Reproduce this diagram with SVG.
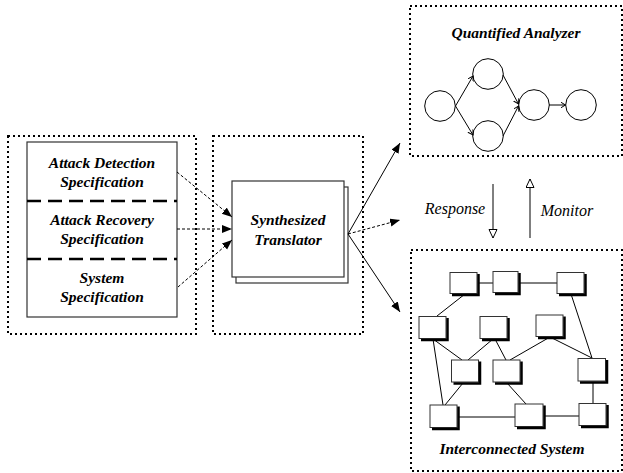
<svg xmlns="http://www.w3.org/2000/svg" width="623" height="473" viewBox="0 0 623 473">
<defs>
<style>
.dot{fill:none;stroke:#000;stroke-width:2;stroke-dasharray:2 3}
.box{fill:#fff;stroke:#333;stroke-width:1.2}
.div{stroke:#000;stroke-width:2.5;stroke-dasharray:14 7}
.t{font-family:"Liberation Serif","Times New Roman",serif;font-weight:bold;font-style:italic;font-size:15.5px;text-anchor:middle;fill:#000}
.ti{font-family:"Liberation Serif","Times New Roman",serif;font-style:italic;font-size:16px;text-anchor:middle;fill:#000}
.ln{fill:none;stroke:#000;stroke-width:1}
.dl{fill:none;stroke:#000;stroke-width:1;stroke-dasharray:3 2}
.circ{fill:#fff;stroke:#000;stroke-width:1}
.nb{fill:#fff;stroke:#333;stroke-width:1}
.sh{fill:none;stroke:#000;stroke-width:2.5}
</style>
<marker id="ah" markerUnits="userSpaceOnUse" markerWidth="12" markerHeight="10" refX="10" refY="4" orient="auto">
<path d="M0,0 L10,4 L0,8 Z" fill="#000"/>
</marker>
<marker id="oh" markerUnits="userSpaceOnUse" markerWidth="12" markerHeight="12" refX="9" refY="4.5" orient="auto">
<path d="M0.5,0.5 L9,4.5 L0.5,8.5 Z" fill="#fff" stroke="#000" stroke-width="1"/>
</marker>
<marker id="vh" markerUnits="userSpaceOnUse" markerWidth="8" markerHeight="8" refX="5" refY="3" orient="auto">
<path d="M0,0 L5,3 L0,6" fill="none" stroke="#000" stroke-width="1"/>
</marker>
</defs>

<g id="spec-group">
<rect class="dot" x="8" y="136" width="188" height="198"/>
<rect class="box" x="27" y="142" width="150" height="175"/>
<line class="div" x1="27" y1="201" x2="177" y2="201"/>
<line class="div" x1="27" y1="259" x2="177" y2="259"/>
</g>
<g id="attack-detection">
<text class="t" x="102" y="168">Attack Detection</text>
<text class="t" x="102" y="187">Specification</text>
</g>
<g id="attack-recovery">
<text class="t" x="102" y="225">Attack Recovery</text>
<text class="t" x="102" y="244">Specification</text>
</g>
<g id="system-spec">
<text class="t" x="102" y="283">System</text>
<text class="t" x="102" y="302">Specification</text>
</g>

<g id="translator">
<rect class="dot" x="213" y="136" width="150" height="198"/>
<rect class="box" x="236" y="187" width="112" height="96"/>
<rect class="box" x="232" y="181" width="112" height="96"/>
<text class="t" x="288" y="225">Synthesized</text>
<text class="t" x="288" y="245">Translator</text>
</g>

<g id="quantified-analyzer">
<rect class="dot" x="410" y="6" width="212" height="150"/>
<text class="t" x="516" y="38">Quantified Analyzer</text>
<circle class="circ" cx="440" cy="106" r="15.3"/>
<circle class="circ" cx="488" cy="74" r="15.3"/>
<circle class="circ" cx="488" cy="136" r="15.3"/>
<circle class="circ" cx="534" cy="105" r="15.3"/>
<circle class="circ" cx="581" cy="105" r="15.3"/>
<line class="ln" x1="455.5" y1="106" x2="473" y2="76" marker-end="url(#vh)"/>
<line class="ln" x1="455.5" y1="106" x2="473" y2="135" marker-end="url(#vh)"/>
<line class="ln" x1="503" y1="75" x2="518.5" y2="104" marker-end="url(#vh)"/>
<line class="ln" x1="503" y1="136" x2="518.5" y2="106" marker-end="url(#vh)"/>
<line class="ln" x1="549" y1="105" x2="565.5" y2="105" stroke-width="2" marker-end="url(#vh)"/>
</g>

<g id="interconnected-system">
<rect class="dot" x="411" y="250" width="211" height="221"/>
<text class="t" x="512" y="454">Interconnected System</text>
<g id="net-links">
<line class="ln" x1="478" y1="283" x2="493" y2="283"/>
<line class="ln" x1="519" y1="283" x2="557" y2="283"/>
<line class="ln" x1="465" y1="294" x2="437" y2="316"/>
<line class="ln" x1="571" y1="294" x2="592" y2="358"/>
<line class="ln" x1="433" y1="339" x2="462" y2="360"/>
<line class="ln" x1="433" y1="339" x2="443" y2="405"/>
<line class="ln" x1="493" y1="339" x2="468" y2="360"/>
<line class="ln" x1="495" y1="339" x2="506" y2="360"/>
<line class="ln" x1="550" y1="337" x2="510" y2="360"/>
<line class="ln" x1="550" y1="337" x2="592" y2="358"/>
<line class="ln" x1="463" y1="383" x2="445" y2="405"/>
<line class="ln" x1="507" y1="383" x2="526" y2="404"/>
<line class="ln" x1="593" y1="382" x2="593" y2="403"/>
<line class="ln" x1="458" y1="417" x2="515" y2="417"/>
<line class="ln" x1="544" y1="416" x2="579" y2="416"/>
</g>
<g id="n1"><rect class="nb" x="450" y="272.5" width="27" height="21"/><path class="sh" d="M478.5,274 V295 H452"/></g>
<g id="n2"><rect class="nb" x="493" y="271.5" width="25" height="21"/><path class="sh" d="M519.5,273 V294 H495"/></g>
<g id="n3"><rect class="nb" x="557" y="272.5" width="27" height="21"/><path class="sh" d="M585.5,274 V295 H559"/></g>
<g id="n4"><rect class="nb" x="419" y="316.5" width="27" height="22"/><path class="sh" d="M447.5,318 V340 H421"/></g>
<g id="n5"><rect class="nb" x="480" y="316.5" width="27" height="22"/><path class="sh" d="M508.5,318 V340 H482"/></g>
<g id="n6"><rect class="nb" x="536" y="315" width="27" height="21.5"/><path class="sh" d="M564.5,316.5 V338 H538"/></g>
<g id="n7"><rect class="nb" x="451.5" y="360" width="27" height="22"/><path class="sh" d="M480,361.5 V383.5 H453.5"/></g>
<g id="n8"><rect class="nb" x="493" y="360" width="27" height="22"/><path class="sh" d="M521.5,361.5 V383.5 H495"/></g>
<g id="n9"><rect class="nb" x="578" y="358.5" width="27.5" height="22.5"/><path class="sh" d="M607,360 V382.5 H580"/></g>
<g id="n10"><rect class="nb" x="430" y="405" width="27" height="22.5"/><path class="sh" d="M458.5,406.5 V429 H432"/></g>
<g id="n11"><rect class="nb" x="515" y="404" width="28" height="22.5"/><path class="sh" d="M544.5,405.5 V428 H517"/></g>
<g id="n12"><rect class="nb" x="579" y="403.5" width="27" height="22"/><path class="sh" d="M607.5,405 V427 H581"/></g>
</g>

<g id="connectors">
<line class="dl" x1="177" y1="172" x2="232" y2="217" marker-end="url(#ah)"/>
<line class="dl" x1="177" y1="229" x2="232" y2="229" marker-end="url(#ah)"/>
<line class="dl" x1="178" y1="287" x2="232" y2="240" marker-end="url(#ah)"/>
<line class="ln" x1="348" y1="234" x2="400" y2="143" marker-end="url(#ah)"/>
<line class="dl" x1="348" y1="234" x2="400" y2="220" marker-end="url(#ah)"/>
<line class="ln" x1="348" y1="234" x2="400" y2="312" marker-end="url(#ah)"/>
<line class="ln" x1="493" y1="184" x2="493" y2="238" marker-end="url(#oh)"/>
<line class="ln" x1="530" y1="238" x2="530" y2="179" marker-end="url(#oh)"/>
<text class="ti" x="455" y="214">Response</text>
<text class="ti" x="567" y="216">Monitor</text>
</g>
</svg>
